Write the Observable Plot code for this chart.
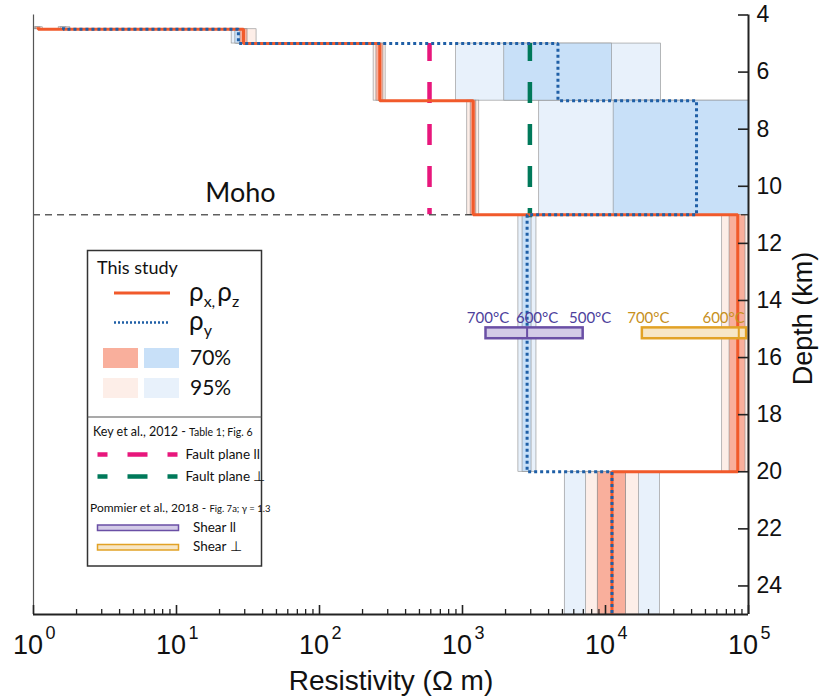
<!DOCTYPE html>
<html>
<head>
<meta charset="utf-8">
<script src="https://cdn.jsdelivr.net/npm/d3@7"></script>
<script src="https://cdn.jsdelivr.net/npm/@observablehq/plot@0.6"></script>
<style>
  body { margin: 0; background: #fff; }
  #chart { position: relative; width: 821px; height: 697px; }
</style>
</head>
<body>
<div id="chart"></div>
<script>
// ---- Layered resistivity model (depth in km, resistivity in ohm-m) ----
const layerTop    = [4.43, 4.5, 5, 7, 11, 20];
const layerBottom = [4.5, 5, 7, 11, 20, 25];

// Best-fit model
const rhoXZ = [1.08, 29.4, 264, 1188, 84100, 11100];
const rhoY  = [1.62, 27.1, 4650, 43300, 2830, 11100];

// Credible intervals, rho_x / rho_z
const xz95Low  = [1.02, 26.3, 239, 1080, 65500, 7330];
const xz70Low  = [1.04, 28.0, 250, 1140, 73700, 8830];
const xz70High = [1.12, 31.4, 280, 1250, 95300, 13900];
const xz95High = [1.16, 36.3, 290, 1310, 100000, 17100];

// Credible intervals, rho_y
const y95Low  = [1.50, 24.3, 903, 3440, 2460, 5190];
const y70Low  = [1.55, 25.8, 1960, 11400, 2630, 8830];
const y70High = [1.70, 28.5, 11100, 200000, 3040, 13900];
const y95High = [1.81, 30.4, 24500, 300000, 3290, 24000];

// Moho depth
const mohoDepth = 11;

// Key et al., 2012 (Table 1; Fig. 6)
const keyDepth = [5, 11];
const faultParallel = 588;
const faultPerpendicular = 2960;

// Pommier et al., 2018 (Fig. 7a)
const shearDepth = [14.96, 15.34];
const shearParTemps = ["700°C", "600°C", "500°C"];
const shearParRho   = [1460, 2830, 6980];
const shearPerpTemps = ["700°C", "600°C"];
const shearPerpRho   = [18100, 85500];
const shearPerpEnd   = 97000;

// Axis ticks
const xMajor = [1, 10, 100, 1000, 10000, 100000];
const xMinorFactors = [2, 3, 4, 5, 6, 7, 8, 9];
const depthTicks = [4, 6, 8, 10, 12, 14, 16, 18, 20, 22, 24];

// ---- Styling ----
const W = 821, H = 697;
const mL = 33, mR = 73, mT = 14.5, mB = 83;
const frameW = W - mL - mR;
const frameH = H - mT - mB;
const axisFont = "'Liberation Sans', Arial, Helvetica, sans-serif";
const annFont = "Lato, 'Noto Sans', sans-serif";

const C = {
  orange: "#f15a2b",
  blue: "#1f5fa6",
  orange70: "#f9af9c",
  orange95: "#fdeee8",
  blue70: "#c8e0f8",
  blue95: "#e8f1fb",
  pink: "#e8177c",
  green: "#00795a",
  purple: "#6a4fa5",
  purpleFill: "#d3cbe7",
  purpleText: "#4d3f9c",
  gold: "#e2a226",
  goldFill: "#f7e6c6",
  goldText: "#c7901c",
  boxEdge: "#8c8c8c"
};

const layers = layerTop.map((t, i) => ({top: t, bottom: layerBottom[i]}));

function stepPoints(values) {
  const pts = [];
  values.forEach((v, i) => {
    pts.push({x: v, y: layerTop[i]});
    pts.push({x: v, y: layerBottom[i]});
  });
  return pts;
}

function band(lo, hi, fill) {
  return Plot.rect(layers, {
    x1: (d, i) => lo[i], x2: (d, i) => hi[i],
    y1: "top", y2: "bottom",
    fill, stroke: C.boxEdge, strokeWidth: 0.6, clip: true
  });
}

const xMinor = [];
for (let e = 0; e < 5; e++) for (const f of xMinorFactors) xMinor.push(f * 10 ** e);

function tempLabel(text, rho, color, dx, anchor = "middle") {
  return Plot.text([text], {
    x: rho, y: shearDepth[0], text: d => d,
    dy: -10, dx, textAnchor: anchor,
    fill: color, fontSize: 15, fontFamily: annFont
  });
}

const plot = Plot.plot({
  width: W, height: H,
  marginLeft: mL, marginRight: mR, marginTop: mT, marginBottom: mB,
  x: {type: "log", domain: [1, 1e5], axis: null},
  y: {domain: [4, 25], reverse: true, axis: null},
  marks: [
    // credible-interval boxes
    band(y95Low, y95High, C.blue95),
    band(xz95Low, xz95High, C.orange95),
    band(y70Low, y70High, C.blue70),
    band(xz70Low, xz70High, C.orange70),

    // Key et al. fault-plane resistivities
    Plot.ruleX([faultParallel], {y1: keyDepth[0], y2: keyDepth[1], stroke: C.pink, strokeWidth: 4.5, strokeDasharray: "21,21", strokeDashoffset: 3}),
    Plot.ruleX([faultPerpendicular], {y1: keyDepth[0], y2: keyDepth[1] + 0.1, stroke: C.green, strokeWidth: 4.5, strokeDasharray: "21,21", strokeDashoffset: 3}),

    // Moho
    Plot.ruleY([mohoDepth], {stroke: "#111", strokeWidth: 1, strokeDasharray: "7,5"}),
    Plot.text(["Moho"], {x: 28, y: mohoDepth, dy: -21, text: d => d, fontSize: 27, fontFamily: annFont, fill: "#111"}),

    // Model profiles
    Plot.line(stepPoints(rhoXZ), {x: "x", y: "y", stroke: C.orange, strokeWidth: 3, strokeLinejoin: "miter", strokeLinecap: "butt"}),
    Plot.line(stepPoints(rhoY), {x: "x", y: "y", stroke: C.blue, strokeWidth: 3, strokeDasharray: "3,3", strokeLinecap: "butt", strokeLinejoin: "miter"}),

    // Pommier et al. shear bars
    Plot.rect([0], {x1: shearParRho[0], x2: shearParRho[2], y1: shearDepth[0], y2: shearDepth[1], fill: C.purpleFill, stroke: C.purple, strokeWidth: 2.5}),
    Plot.ruleX([shearParRho[1]], {y1: shearDepth[0], y2: shearDepth[1], stroke: C.purple, strokeWidth: 2}),
    Plot.rect([0], {x1: shearPerpRho[0], x2: shearPerpEnd, y1: shearDepth[0], y2: shearDepth[1], fill: C.goldFill, stroke: C.gold, strokeWidth: 2.5}),
    Plot.ruleX([shearPerpRho[1]], {y1: shearDepth[0], y2: shearDepth[1], stroke: C.gold, strokeWidth: 2}),
    tempLabel(shearParTemps[0], shearParRho[0], C.purpleText, 2),
    tempLabel(shearParTemps[1], shearParRho[1], C.purpleText, 10),
    tempLabel(shearParTemps[2], shearParRho[2], C.purpleText, 7),
    tempLabel(shearPerpTemps[0], shearPerpRho[0], C.goldText, 6),
    tempLabel(shearPerpTemps[1], shearPerpRho[1], C.goldText, 6, "end"),

    // Axes frame
    Plot.ruleX([1], {stroke: "#555", strokeWidth: 1.2}),
    Plot.ruleY([25], {stroke: "#222", strokeWidth: 2}),
    Plot.ruleX([1e5], {stroke: "#222", strokeWidth: 2}),
    Plot.tickX(xMajor, {x: d => d, insetTop: frameH - 9, stroke: "#222", strokeWidth: 1.6}),
    Plot.tickX(xMinor, {x: d => d, insetTop: frameH - 5, stroke: "#222", strokeWidth: 1.3}),
    Plot.tickY(depthTicks, {y: d => d, insetLeft: frameW - 10, stroke: "#222", strokeWidth: 1.6}),

    // Tick labels
    Plot.text(xMajor, {x: d => d, y: 25, text: () => "10", dx: -5.5, dy: 31, fontSize: 27, fontFamily: axisFont, fill: "#111"}),
    Plot.text(xMajor, {x: d => d, y: 25, text: d => String(Math.round(Math.log10(d))), dx: 17, dy: 19, fontSize: 18, fontFamily: axisFont, fill: "#111"}),
    Plot.text(depthTicks, {x: 1e5, y: d => d, text: d => String(d), dx: 8, textAnchor: "start", fontSize: 23, fontFamily: axisFont, fill: "#111"}),

    // Axis titles
    Plot.text(["Resistivity (Ω m)"], {frameAnchor: "bottom", lineAnchor: "middle", text: d => d, dy: 67, fontSize: 28, fontFamily: axisFont, fill: "#111"}),
    Plot.text(["Depth (km)"], {x: 1e5, y: 14.63, text: d => d, rotate: -90, dx: 55, fontSize: 27, fontFamily: axisFont, fill: "#111"})
  ]
});

document.getElementById("chart").appendChild(plot);

// ---- Legend ----
const svg = d3.select(plot);
const lg = svg.append("g")
  .attr("font-family", annFont)
  .attr("fill", "#111")
  .attr("text-anchor", "start");

lg.append("rect").attr("x", 87.5).attr("y", 250.5).attr("width", 174).attr("height", 315.5)
  .attr("fill", "#fff").attr("stroke", "#333").attr("stroke-width", 1.5);
lg.append("line").attr("x1", 87.5).attr("x2", 261.5).attr("y1", 417).attr("y2", 417)
  .attr("stroke", "#555").attr("stroke-width", 1.2);

lg.append("text").attr("x", 97).attr("y", 274).attr("font-size", 18).text("This study");

lg.append("line").attr("x1", 114).attr("x2", 170).attr("y1", 293).attr("y2", 293)
  .attr("stroke", C.orange).attr("stroke-width", 3);
const t1 = lg.append("text").attr("x", 189).attr("y", 301).attr("font-size", 26);
t1.append("tspan").text("ρ");
t1.append("tspan").attr("font-size", 16).attr("dy", 6).text("x,");
t1.append("tspan").attr("dy", -6).attr("dx", 2).text("ρ");
t1.append("tspan").attr("font-size", 16).attr("dy", 6).text("z");

lg.append("line").attr("x1", 114).attr("x2", 170).attr("y1", 322.5).attr("y2", 322.5)
  .attr("stroke", C.blue).attr("stroke-width", 2.5).attr("stroke-dasharray", "2,2");
const t2 = lg.append("text").attr("x", 189).attr("y", 330).attr("font-size", 26);
t2.append("tspan").text("ρ");
t2.append("tspan").attr("font-size", 16).attr("dy", 6).text("y");

lg.append("rect").attr("x", 103).attr("y", 348).attr("width", 35).attr("height", 20).attr("fill", C.orange70);
lg.append("rect").attr("x", 144).attr("y", 348).attr("width", 35).attr("height", 20).attr("fill", C.blue70);
lg.append("text").attr("x", 190).attr("y", 365).attr("font-size", 21).text("70%");
lg.append("rect").attr("x", 103).attr("y", 378).attr("width", 35).attr("height", 20).attr("fill", C.orange95);
lg.append("rect").attr("x", 144).attr("y", 378).attr("width", 35).attr("height", 20).attr("fill", C.blue95);
lg.append("text").attr("x", 190).attr("y", 395).attr("font-size", 21).text("95%");

const k = lg.append("text").attr("x", 93).attr("y", 436).attr("font-size", 12.5);
k.append("tspan").text("Key et al., 2012 - ");
k.append("tspan").attr("font-size", 10.5).text("Table 1; Fig. 6");

lg.append("line").attr("x1", 97.5).attr("x2", 178).attr("y1", 454.5).attr("y2", 454.5)
  .attr("stroke", C.pink).attr("stroke-width", 4.5).attr("stroke-dasharray", "10,20,20,20,10");
lg.append("text").attr("x", 185.5).attr("y", 459).attr("font-size", 13.5).text("Fault plane ll");
lg.append("line").attr("x1", 97.5).attr("x2", 178).attr("y1", 476.5).attr("y2", 476.5)
  .attr("stroke", C.green).attr("stroke-width", 4.5).attr("stroke-dasharray", "10,20,20,20,10");
lg.append("text").attr("x", 185.5).attr("y", 481).attr("font-size", 13.5).text("Fault plane ⊥");

const p = lg.append("text").attr("x", 90).attr("y", 512).attr("font-size", 12);
p.append("tspan").text("Pommier et al., 2018 - ");
p.append("tspan").attr("font-size", 9.5).text("Fig. 7a; γ = 1.3");

lg.append("rect").attr("x", 97.5).attr("y", 525).attr("width", 81).attr("height", 5.5)
  .attr("fill", C.purpleFill).attr("stroke", C.purple).attr("stroke-width", 1.5);
lg.append("text").attr("x", 193).attr("y", 531.5).attr("font-size", 13.5).text("Shear ll");
lg.append("rect").attr("x", 97.5).attr("y", 544.5).attr("width", 81).attr("height", 5.5)
  .attr("fill", C.goldFill).attr("stroke", C.gold).attr("stroke-width", 1.5);
lg.append("text").attr("x", 193).attr("y", 551).attr("font-size", 13.5).text("Shear ⊥");
</script>
</body>
</html>
